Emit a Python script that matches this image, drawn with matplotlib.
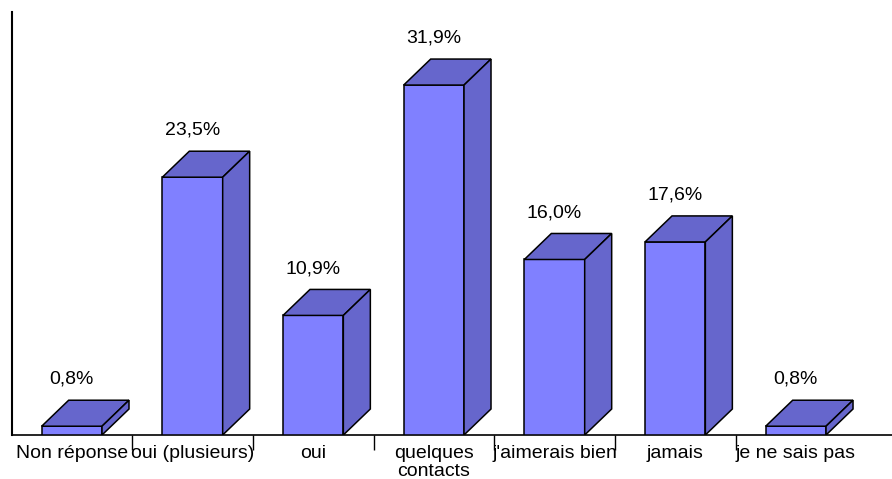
import matplotlib
matplotlib.use("Agg")
import matplotlib.pyplot as plt
from matplotlib.patches import Polygon
import numpy as np

categories = ["Non réponse", "oui (plusieurs)", "oui", "quelques\ncontacts",
              "j'aimerais bien", "jamais", "je ne sais pas"]
values = [0.8, 23.5, 10.9, 31.9, 16.0, 17.6, 0.8]
labels = ["0,8%", "23,5%", "10,9%", "31,9%", "16,0%", "17,6%", "0,8%"]

front_col = "#8080FF"
dark_col = "#6666CC"

plt.rcParams["font.family"] = ["Liberation Sans", "DejaVu Sans"]

fig = plt.figure(figsize=(8.92, 4.79), dpi=100)
W, H = 892, 479
left_px, base_px, top_px = 11.5, 435, 12
ax = fig.add_axes([left_px / W, (H - base_px) / H, (W - left_px) / W, (base_px - top_px) / H])

slot_px = 120.67
ymax = 38.56
ax.set_xlim(-0.5, -0.5 + (W - left_px) / slot_px)
ax.set_ylim(0, ymax)

# 3d depth, in data units
w = 0.5
dx = 27 / slot_px
dy = 26 / ((base_px - top_px) / ymax)

x = np.arange(len(values))
ax.bar(x, values, width=w, color=front_col, edgecolor="black", linewidth=1.1, zorder=3)
for xi, v, lab in zip(x, values, labels):
    l, r = xi - w / 2, xi + w / 2
    top = Polygon([(l, v), (r, v), (r + dx, v + dy), (l + dx, v + dy)],
                  closed=True, facecolor=dark_col, edgecolor="black", linewidth=1.1, zorder=3)
    side = Polygon([(r, 0), (r + dx, dy), (r + dx, v + dy), (r, v)],
                   closed=True, facecolor=dark_col, edgecolor="black", linewidth=1.1, zorder=3)
    ax.add_patch(top)
    ax.add_patch(side)
    ax.text(xi, v + dy + 1.9, lab, ha="center", va="center", fontsize=14)

ax.spines["top"].set_visible(False)
ax.spines["right"].set_visible(False)
ax.spines["left"].set_linewidth(1.5)
ax.spines["bottom"].set_linewidth(1.2)
ax.set_yticks([])

ax.set_xticks(np.arange(len(values) - 1) + 0.5)
ax.set_xticklabels([])
ax.tick_params(axis="x", which="major", length=11, width=1.0, direction="out")
ax.set_xticks(x, minor=True)
ax.set_xticklabels(categories, minor=True, fontsize=14, linespacing=1.1)
ax.tick_params(axis="x", which="minor", length=0, pad=7)

fig.savefig("out.png", dpi=100)
